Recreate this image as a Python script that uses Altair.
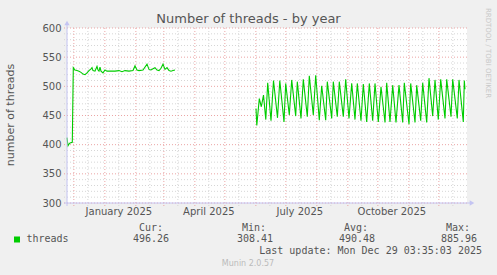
import altair as alt
import pandas as pd
from datetime import datetime

START = datetime(2024, 11, 24, 3, 35, 3)   # graph start (400 days before last update)
SPAN = 400

# ---- data: day offset from graph start, thread count ----
seg1_day = [0, 1, 2, 3, 5.3, 6.3, 8, 10, 12, 14, 16, 18, 20, 22, 24, 25, 26, 28, 29, 30,
            31, 32, 33, 34, 36, 38, 40, 44, 48, 52, 55, 58, 62, 66, 68, 70, 72, 76, 80, 82,
            84, 86, 88, 90, 92, 94, 96, 98, 100, 102, 104, 106, 108]
seg1_val = [412, 398, 401, 403, 404, 532, 528, 527, 526, 524, 521, 520, 523, 527, 530, 532, 527, 526, 530, 534,
            528, 526, 533, 526, 523, 528, 526, 526, 526, 527, 525, 527, 526, 527, 535, 528, 527, 528, 538, 529,
            528, 530, 532, 528, 527, 531, 538, 529, 532, 527, 526, 527, 528]

seg2_day = [189, 189.8, 192.3, 194.3, 196.5, 198.8, 200.7, 204, 206.5, 210.5, 212.8, 217, 218.7, 222.3,
            224.7, 228.7, 230.3, 234, 236.3, 240.3, 242.3, 246.3, 248.7, 252.3, 254.7, 258.7, 260.3,
            264.7, 266.3, 270.3, 272.3, 276.3, 278.7, 282, 284.7, 288, 290.3, 294, 296.3, 299.7, 302.3,
            305.7, 308, 311.3, 314, 318, 319.7, 323, 325.7, 329, 332, 335.7, 337.3, 342, 343.7, 348,
            349.7, 353.7, 355.7, 359.7, 362, 365.7, 368, 371.3, 373.7, 378, 379.7, 384, 385.7, 390.3,
            392, 396.3, 397.3, 398]
seg2_val = [462, 433, 479, 465, 485, 443, 506, 441, 510, 446, 510, 439, 505, 451,
            511, 449, 508, 445, 512, 448, 518, 451, 519, 442, 501, 442, 508,
            445, 508, 448, 508, 448, 512, 445, 505, 443, 505, 441, 504, 439, 505,
            441, 505, 439, 499, 438, 506, 439, 502, 438, 502, 438, 506, 435, 505, 438,
            502, 441, 506, 438, 514, 449, 511, 443, 512, 445, 512, 448, 512, 445,
            511, 439, 510, 495]

x_labels = ["January 2025", "April 2025", "July 2025", "October 2025"]
x_label_dates = [datetime(2025, 1, 15), datetime(2025, 4, 15), datetime(2025, 7, 15), datetime(2025, 10, 15)]
y_ticks = [300, 350, 400, 450, 500, 550, 600]

legend_name = "threads"
cur, vmin, avg, vmax = "496.26", "308.41", "490.48", "885.96"
last_update = "Last update: Mon Dec 29 03:35:03 2025"


def off(dt):
    return (dt - START).total_seconds() / 86400.0


month_list = [(2024, 12)] + [(2025, m) for m in range(1, 13)]
major_x = [off(datetime(y, m, 1)) for y, m in month_list]
minor_x = [off(datetime(y, m, 15)) for y, m in month_list]
major_y = y_ticks
minor_y = [v for v in range(310, 600, 10) if v % 50 != 0]

line_df = pd.concat([
    pd.DataFrame({"d": seg1_day, "v": seg1_val, "seg": "a"}),
    pd.DataFrame({"d": seg2_day, "v": seg2_val, "seg": "b"}),
])

XS = alt.Scale(domain=[0, SPAN], nice=False, zero=False)
YS = alt.Scale(domain=[300, 600], nice=False, zero=False)

FONT = "DejaVu Sans"
MONO = "DejaVu Sans Mono"
TXT = "#555555"
GRID = "#D6D6D6"
MGRID = "#EBA5A5"
AXIS = "#C4C4F2"
GREEN = "#00CC00"

YAX = alt.Axis(values=y_ticks, grid=False, ticks=False, tickSize=0, domain=False,
               labelFont=FONT, labelFontSize=10, labelColor=TXT, labelPadding=6, title=None)

one = pd.DataFrame({"k": [0]})

minor_h = alt.Chart(pd.DataFrame({"y": minor_y})).mark_rule(color=GRID, strokeDash=[1, 2], strokeWidth=1).encode(
    y=alt.Y("y:Q", scale=YS, axis=YAX), x=alt.value(-3), x2=alt.value(SPAN))
minor_v = alt.Chart(pd.DataFrame({"x": minor_x})).mark_rule(color=GRID, strokeDash=[1, 2], strokeWidth=1).encode(
    x=alt.X("x:Q", scale=XS, axis=None), y=alt.value(0), y2=alt.value(178))
major_h = alt.Chart(pd.DataFrame({"y": major_y})).mark_rule(color=MGRID, strokeDash=[1, 2], strokeWidth=1).encode(
    y=alt.Y("y:Q", scale=YS, axis=YAX), x=alt.value(-3), x2=alt.value(SPAN))
major_v = alt.Chart(pd.DataFrame({"x": major_x})).mark_rule(color=MGRID, strokeDash=[1, 2], strokeWidth=1).encode(
    x=alt.X("x:Q", scale=XS, axis=None), y=alt.value(0), y2=alt.value(178))

line = alt.Chart(line_df).mark_line(color=GREEN, strokeWidth=1.1).encode(
    x=alt.X("d:Q", scale=XS, axis=None),
    y=alt.Y("v:Q", scale=YS, axis=YAX),
    detail="seg:N")

x_axis_line = alt.Chart(one).mark_rule(color=AXIS, strokeWidth=1).encode(
    x=alt.value(-3), x2=alt.value(404), y=alt.value(175))
y_axis_line = alt.Chart(one).mark_rule(color=AXIS, strokeWidth=1).encode(
    x=alt.value(0), y=alt.value(-3), y2=alt.value(178))
x_arrow = alt.Chart(one).mark_point(shape="triangle-right", filled=True, color=AXIS, size=28, opacity=1).encode(
    x=alt.value(405), y=alt.value(175))
y_arrow = alt.Chart(one).mark_point(shape="triangle-up", filled=True, color=AXIS, size=28, opacity=1).encode(
    x=alt.value(0), y=alt.value(-5))

xlab = alt.Chart(pd.DataFrame({"x": [off(d) for d in x_label_dates], "t": x_labels})).mark_text(
    font=FONT, fontSize=10, color=TXT, baseline="middle", align="center").encode(
    x=alt.X("x:Q", scale=XS, axis=None), y=alt.value(184), text="t:N")


def txt(s, x, y, font=MONO, size=10, color=TXT, align="left", angle=0):
    kw = dict(font=font, fontSize=size, color=color, align=align, baseline="middle")
    if angle:
        kw["angle"] = angle
    return alt.Chart(pd.DataFrame({"t": [s]})).mark_text(**kw).encode(
        text="t:N", x=alt.value(x), y=alt.value(y))


texts = [
    txt("Number of threads - by year", 181.5, -9, font=FONT, size=13, color=TXT, align="center"),
    txt("number of threads", -56, 87, font=FONT, size=11, color=TXT, align="center", angle=270),
    txt("RRDTOOL / TOBI OETIKER", 420.5, 25, font=FONT, size=7, color="#C8C8C8", align="center", angle=90),
    txt(legend_name, -40.5, 211.3),
    txt("Cur:", 96, 199.7, align="right"),
    txt(cur, 102, 211.3, align="right"),
    txt("Min:", 199, 199.7, align="right"),
    txt(vmin, 206, 211.3, align="right"),
    txt("Avg:", 301, 199.7, align="right"),
    txt(avg, 308, 211.3, align="right"),
    txt("Max:", 403, 199.7, align="right"),
    txt(vmax, 410, 211.3, align="right"),
    txt(last_update, 415, 223, align="right"),
    txt("Munin 2.0.57", 181, 236, font=FONT, size=8, color="#BBBBBB", align="center"),
]

swatch = alt.Chart(one).mark_rect(color=GREEN).encode(
    x=alt.value(-53), x2=alt.value(-47), y=alt.value(208.5), y2=alt.value(214.5))

chart = alt.layer(
    minor_h, minor_v, major_h, major_v, line,
    x_axis_line, y_axis_line, x_arrow, y_arrow, xlab, swatch, *texts
).properties(
    width=400, height=175,
    padding={"left": 67, "top": 28, "right": 30, "bottom": 72},
    autosize=alt.AutoSizeParams(type="none"),
    background="#F0F0F0",
).configure_view(stroke=None, fill="white")

chart.save("out.html", embed_options={"renderer": "svg", "actions": False})
